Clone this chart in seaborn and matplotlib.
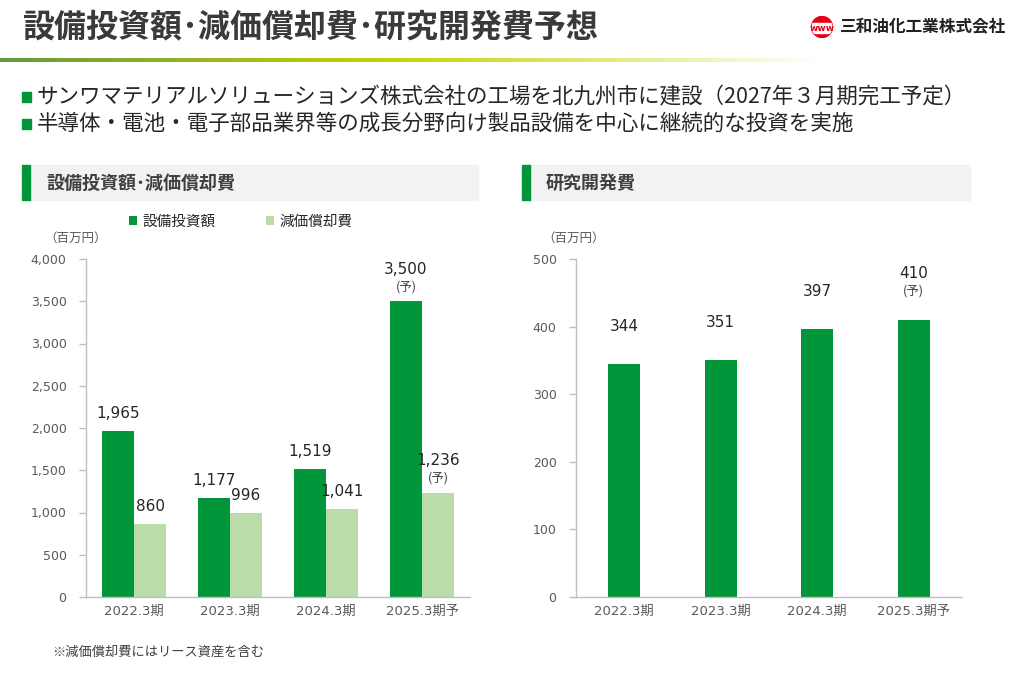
import numpy as np
import pandas as pd
import matplotlib
matplotlib.use('Agg')
import matplotlib.pyplot as plt
from matplotlib.patches import Rectangle, Circle
import seaborn as sns

# data
years = ['2022.3期', '2023.3期', '2024.3期', '2025.3期予']
capex = [1965, 1177, 1519, 3500]
depr = [860, 996, 1041, 1236]
rnd = [344, 351, 397, 410]
forecast = [False, False, False, True]
series_names = ['設備投資額', '減価償却費']

GREEN = '#009639'
LIGHT = '#BADCA9'
GREY = '#BFBFBF'
TXT = '#595959'
NUMFONT = ['DejaVu Sans', 'Noto Sans CJK JP']

sns.set_style('white')
plt.rcParams['font.family'] = ['Noto Sans CJK JP', 'DejaVu Sans']

W, H = 1015, 673
fig = plt.figure(figsize=(W / 100, H / 100), dpi=100)


def px(x0, y0, x1, y1):
    return [x0 / W, 1 - y1 / H, (x1 - x0) / W, (y1 - y0) / H]


def fx(x):
    return x / W


def fy(y):
    return 1 - y / H


# header
fig.text(fx(22), fy(27), '設備投資額･減価償却費･研究開発費予想', fontsize=23,
         fontweight='bold', color='#3a3a3a', va='center', ha='left')

grad = fig.add_axes(px(0, 58, 820, 62))
n = 400
t = np.linspace(0, 1, n)
c0 = np.array([0.40, 0.60, 0.24])
c1 = np.array([0.78, 0.83, 0.0])
c2 = np.array([1.0, 1.0, 1.0])
rgb = np.where(t[:, None] < 0.48, c0 + (c1 - c0) * (t[:, None] / 0.48),
               c1 + (c2 - c1) * ((t[:, None] - 0.48) / 0.52))
grad.imshow(rgb[None, :, :], aspect='auto')
grad.axis('off')

# logo
logo = fig.add_axes(px(811, 16, 833, 38))
logo.add_patch(Circle((0, 0), 1, color='#E60012'))
logo.add_patch(Rectangle((-1, -0.6), 2, 0.95, color='white',
                         clip_path=Circle((0, 0), 1, transform=logo.transData)))
logo.text(0, -0.12, 'www', color='#E60012', fontsize=6.5, fontweight='bold',
          ha='center', va='center', family='DejaVu Sans')
logo.set_xlim(-1.05, 1.05)
logo.set_ylim(-1.05, 1.05)
logo.set_aspect('equal')
logo.axis('off')
fig.text(fx(840), fy(27), '三和油化工業株式会社', fontsize=12, fontweight='bold',
         color='#222222', va='center', ha='left')

# bullets
bullets = ['サンワマテリアルソリューションズ株式会社の工場を北九州市に建設（2027年３月期完工予定）',
           '半導体・電池・電子部品業界等の成長分野向け製品設備を中心に継続的な投資を実施']
for yy, b in zip([97, 124], bullets):
    fig.patches.append(Rectangle((fx(22), fy(yy + 5)), 9 / W, 10 / H, color=GREEN,
                                 transform=fig.transFigure, figure=fig))
    fig.text(fx(37), fy(yy), b, fontsize=15.5, color='#262626', va='center', ha='left')

# section headers
for x0, x1, label in [(22, 478, '設備投資額･減価償却費'), (522, 970, '研究開発費')]:
    fig.patches.append(Rectangle((fx(x0), fy(200)), (x1 - x0) / W, 35 / H, color='#F2F2F2',
                                 transform=fig.transFigure, figure=fig))
    fig.patches.append(Rectangle((fx(x0), fy(200)), 8 / W, 35 / H, color=GREEN,
                                 transform=fig.transFigure, figure=fig))
    fig.text(fx(x0 + 24), fy(183), label, fontsize=13, fontweight='bold',
             color='#404040', va='center', ha='left')


def style_axis(ax, ymax, step):
    ax.set_xlim(-0.5, 3.5)
    ax.set_ylim(0, ymax)
    ax.set_yticks(np.arange(0, ymax + 1, step))
    ax.yaxis.set_major_formatter(matplotlib.ticker.FuncFormatter(lambda v, p: f'{v:,.0f}'))
    ax.set_xticks(range(4))
    ax.set_xticklabels(years)
    ax.set_xticks(np.arange(-0.5, 4, 1), minor=True)
    ax.tick_params(axis='x', which='major', length=0, pad=6, labelsize=9.5, labelcolor=TXT)
    ax.tick_params(axis='x', which='minor', length=5, color=GREY, width=1, direction='out')
    ax.tick_params(axis='y', length=5, color=GREY, width=1, pad=9, labelsize=9,
                   labelcolor=TXT, direction='out', left=True)
    for lab in ax.get_xticklabels() + ax.get_yticklabels():
        lab.set_family(NUMFONT)
    for s in ['top', 'right']:
        ax.spines[s].set_visible(False)
    for s in ['left', 'bottom']:
        ax.spines[s].set_color(GREY)
        ax.spines[s].set_linewidth(1)
    ax.set_xlabel('')
    ax.set_ylabel('')
    ax.grid(False)


def add_labels(ax, container, values, off, fc_off, fc_sub):
    for bar, v, fc in zip(container, values, forecast):
        x = bar.get_x() + bar.get_width() / 2
        if fc:
            ax.annotate(f'{v:,}', (x, v), xytext=(0, fc_off), textcoords='offset pixels',
                        ha='center', va='bottom', fontsize=11, color='#262626',
                        family=NUMFONT)
            ax.annotate('(予)', (x, v), xytext=(0, fc_sub), textcoords='offset pixels',
                        ha='center', va='bottom', fontsize=9, color='#404040')
        else:
            ax.annotate(f'{v:,}', (x, v), xytext=(0, off), textcoords='offset pixels',
                        ha='center', va='bottom', fontsize=11, color='#262626',
                        family=NUMFONT)


# left chart
df = pd.DataFrame({
    'year': years * 2,
    'value': capex + depr,
    'series': [series_names[0]] * 4 + [series_names[1]] * 4,
})
ax1 = fig.add_axes(px(86, 259, 470, 597))
sns.barplot(data=df, x='year', y='value', hue='series', palette=[GREEN, LIGHT],
            width=0.667, saturation=1, linewidth=0, ax=ax1)
style_axis(ax1, 4000, 500)
add_labels(ax1, ax1.containers[0], capex, 10, 24, 8)
add_labels(ax1, ax1.containers[1], depr, 10, 25, 8)
handles, labels = ax1.get_legend_handles_labels()
ax1.legend(handles, labels, ncol=2, frameon=False, loc='center left',
           bbox_to_anchor=(fx(129), fy(222)), bbox_transform=fig.transFigure,
           borderaxespad=0, borderpad=0, fontsize=10.5, handlelength=0.55,
           handleheight=0.55, handletextpad=0.35, columnspacing=3.5,
           labelcolor='#262626')
fig.text(fx(44), fy(238), '（百万円）', fontsize=9, color=TXT, va='center', ha='left')

# right chart
ax2 = fig.add_axes(px(576, 259, 962, 597))
sns.barplot(x=years, y=rnd, color=GREEN, width=0.333, saturation=1, linewidth=0, ax=ax2)
style_axis(ax2, 500, 100)
add_labels(ax2, ax2.containers[0], rnd, 30, 39, 22)
fig.text(fx(542), fy(238), '（百万円）', fontsize=9, color=TXT, va='center', ha='left')

fig.text(fx(52), fy(652), '※減価償却費にはリース資産を含む', fontsize=9.5, color='#404040',
         va='center', ha='left')

fig.savefig('out.png', dpi=100)
